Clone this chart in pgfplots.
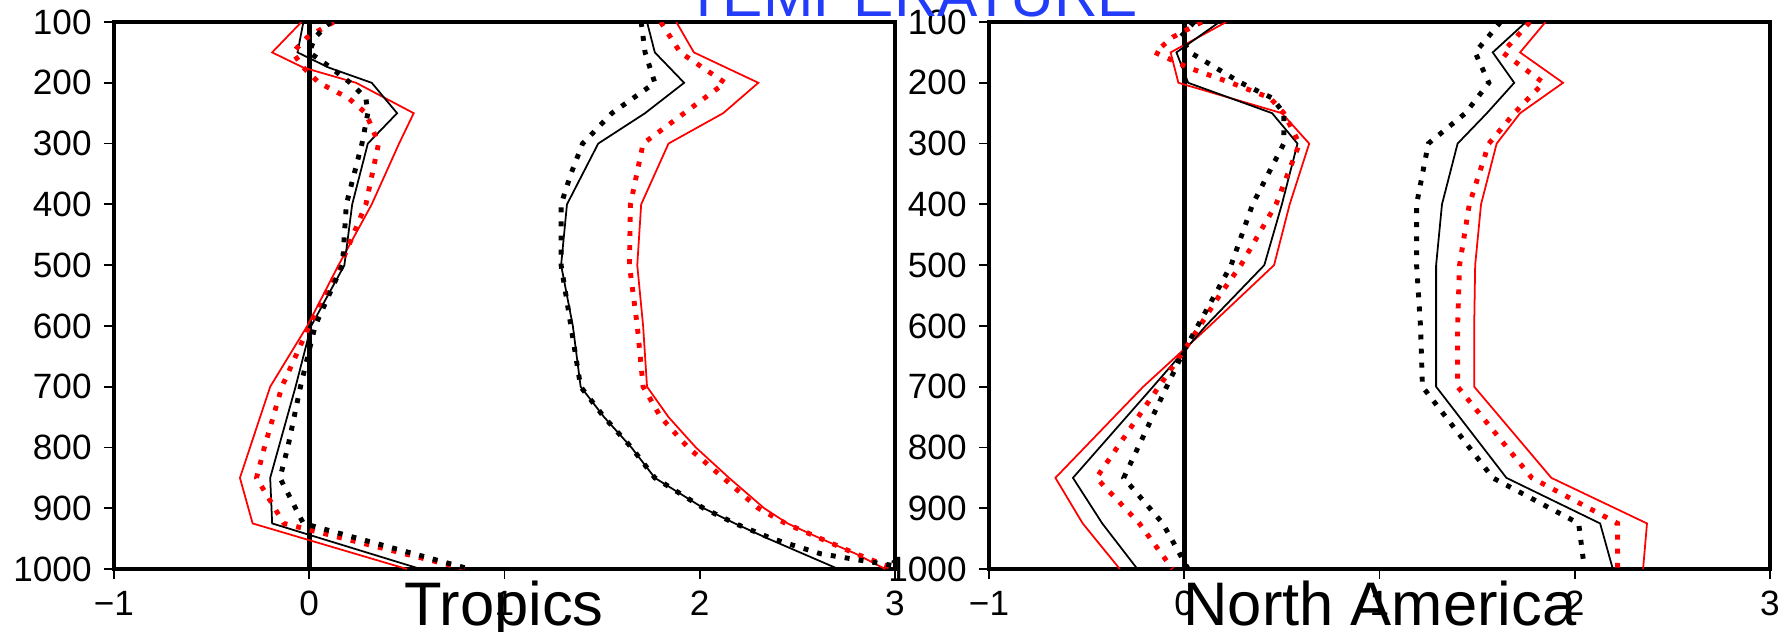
\documentclass[border=0pt]{standalone}
\usepackage{fontspec}
\setmainfont{Liberation Sans}
\usepackage{pgfplots}
\pgfplotsset{compat=1.18}
\definecolor{titleblue}{RGB}{35,60,250}

\pgfplotsset{
  panel/.style={
    scale only axis, width=7.81cm, height=5.47cm,
    anchor=south west,
    xmin=-1, xmax=3, ymin=100, ymax=1000, y dir=reverse,
    xtick={-1,0,1,2,3}, xticklabels={−1,0,1,2,3},
    ytick={100,200,...,1000},
    axis line style={line width=1.3pt},
    tick style={black, line width=0.5pt}, major tick length=0.1cm,
    tick align=outside, xtick pos=left, ytick pos=left,
    ticklabel style={font=\fontsize{10}{10}\selectfont},
    /pgf/number format/assume math mode=true,
    /pgf/number format/1000 sep={},
  },
  thinline/.style={line width=0.5pt},
  dotline/.style={line width=1.4pt, dash pattern=on 1.4pt off 2.6pt},
}

\begin{document}
\begin{tikzpicture}
\useasboundingbox (0cm,0cm) rectangle (17.81cm,6.31cm);
\clip (0cm,0cm) rectangle (17.81cm,6.31cm);

% ---- Tropics ----
\begin{axis}[panel, at={(1.14cm,0.62cm)}]
\addplot[black, line width=1.3pt] coordinates {(0,100) (0,1000)};
% near-zero group
\addplot[red, thinline] coordinates {
 (-0.04,100) (-0.19,150) (-0.03,175) (0.24,200) (0.535,250) (0.46,300)
 (0.32,400) (0.15,500) (-0.01,600) (-0.20,700) (-0.355,850) (-0.29,925) (0.50,1000)};
\addplot[black, thinline] coordinates {
 (-0.03,100) (-0.06,150) (0.10,175) (0.32,200) (0.45,250) (0.30,300)
 (0.22,400) (0.18,500) (0.01,600) (-0.07,700) (-0.20,850) (-0.19,925) (0.57,1000)};
\addplot[red, dotline] coordinates {
 (0.125,100) (-0.01,125) (-0.085,150) (-0.03,175) (0.05,200) (0.20,225) (0.29,250)
 (0.355,300) (0.29,400) (0.16,500) (0.0,600) (-0.14,700) (-0.23,800) (-0.27,850)
 (-0.13,925) (0.80,1000)};
\addplot[black, dotline] coordinates {
 (0.11,100) (0.03,125) (0.0,150) (0.11,175) (0.21,200) (0.29,225) (0.30,250)
 (0.27,300) (0.19,400) (0.17,500) (0.03,600) (-0.045,700) (-0.11,800) (-0.15,850)
 (-0.03,925) (0.82,1000)};
% warm group
\addplot[red, thinline] coordinates {
 (1.88,100) (1.97,150) (2.30,200) (2.12,250) (1.84,300) (1.70,400) (1.68,500)
 (1.71,600) (1.73,700) (1.84,750) (1.98,800) (2.15,850) (2.33,900) (2.45,925)
 (2.62,950) (2.80,975) (2.95,1000)};
\addplot[black, thinline] coordinates {
 (1.73,100) (1.77,150) (1.92,200) (1.72,250) (1.48,300) (1.32,400) (1.29,500)
 (1.35,600) (1.39,700) (1.51,750) (1.65,800) (1.77,850) (2.02,900) (2.18,925)
 (2.35,950) (2.53,975) (2.71,1000)};
\addplot[red, dotline] coordinates {
 (1.80,100) (1.90,150) (2.13,200) (1.92,250) (1.71,300) (1.645,400) (1.64,500)
 (1.68,600) (1.71,700) (1.80,750) (1.94,800) (2.12,850) (2.30,900) (2.44,925)
 (2.62,950) (2.80,975) (3.0,1000)};
\addplot[black, dotline] coordinates {
 (1.70,100) (1.72,150) (1.77,200) (1.55,250) (1.40,300) (1.34,350) (1.29,400)
 (1.29,500) (1.34,600) (1.39,700) (1.51,750) (1.65,800) (1.77,850) (2.02,900)
 (2.18,925) (2.37,950) (2.62,975) (3.1,1000)};
\end{axis}

% ---- North America ----
\begin{axis}[panel, at={(9.89cm,0.62cm)}]
\addplot[black, line width=1.3pt] coordinates {(0,100) (0,1000)};
% near-zero group
\addplot[red, thinline] coordinates {
 (0.215,100) (-0.07,150) (-0.03,200) (0.50,250) (0.64,300) (0.54,400) (0.46,500)
 (0.13,600) (-0.21,700) (-0.66,850) (-0.52,925) (-0.33,1000)};
\addplot[black, thinline] coordinates {
 (0.18,100) (-0.04,150) (0.02,200) (0.45,250) (0.58,300) (0.50,400) (0.41,500)
 (0.11,600) (-0.16,700) (-0.57,850) (-0.42,925) (-0.24,1000)};
\addplot[red, dotline] coordinates {
 (0.09,100) (-0.06,125) (-0.15,150) (0.02,175) (0.24,200) (0.44,225) (0.51,250)
 (0.59,300) (0.47,400) (0.29,500) (0.18,550) (0.0,640) (-0.13,700) (-0.45,850)
 (-0.23,925) (-0.06,1000)};
\addplot[black, dotline] coordinates {
 (0.05,100) (-0.02,125) (0.03,150) (0.16,175) (0.29,200) (0.45,225) (0.51,250)
 (0.51,300) (0.35,400) (0.24,500) (0.155,550) (0.0,640) (-0.09,700) (-0.31,850)
 (-0.11,925) (0.02,1000)};
% warm group
\addplot[red, thinline] coordinates {
 (1.85,100) (1.72,150) (1.94,200) (1.72,250) (1.60,300) (1.52,400) (1.49,500)
 (1.485,600) (1.485,700) (1.88,850) (2.37,925) (2.35,1000)};
\addplot[black, thinline] coordinates {
 (1.75,100) (1.58,150) (1.69,200) (1.55,250) (1.40,300) (1.32,400) (1.29,500)
 (1.29,600) (1.29,700) (1.65,850) (2.13,925) (2.195,1000)};
\addplot[red, dotline] coordinates {
 (1.77,100) (1.63,150) (1.84,200) (1.69,250) (1.56,300) (1.46,400) (1.41,500)
 (1.40,600) (1.40,700) (1.78,850) (2.22,925) (2.22,1000)};
\addplot[black, dotline] coordinates {
 (1.62,100) (1.49,150) (1.56,200) (1.44,250) (1.25,300) (1.19,400) (1.19,500)
 (1.21,600) (1.22,700) (1.58,850) (2.02,925) (2.05,1000)};
\end{axis}

\node[anchor=base, text=titleblue, font=\fontsize{17.2}{17.2}\selectfont]
  at (9.12cm,6.15cm) {TEMPERATURE};
\node[anchor=base, font=\fontsize{17.5}{17.5}\selectfont] at (5.04cm,0.06cm) {Tropics};
\node[anchor=base, font=\fontsize{17.5}{17.5}\selectfont] at (13.80cm,0.06cm) {North America};
\end{tikzpicture}
\end{document}
